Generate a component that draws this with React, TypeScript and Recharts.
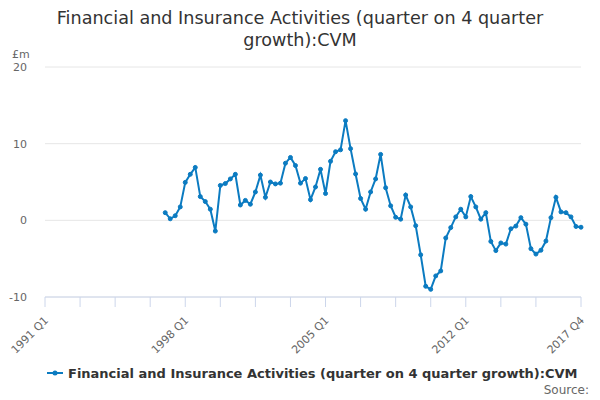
import React from "react";
import { LineChart, Line, XAxis, YAxis, CartesianGrid } from "recharts";

const years: number[] = [];
for (let y = 1991; y <= 2017; y++) years.push(y);
const quarters: string[] = years.flatMap((y) => [`${y} Q1`, `${y} Q2`, `${y} Q3`, `${y} Q4`]);

const seriesName = "Financial and Insurance Activities (quarter on 4 quarter growth):CVM";
const seriesStart = "1997 Q1";
const values: number[] = [
  1.0, 0.2, 0.6, 1.75, 4.95, 6.0, 6.9, 3.1, 2.45, 1.45, -1.4, 4.55,
  4.8, 5.4, 6.0, 2.0, 2.6, 2.1, 3.7, 5.9, 3.0, 5.0, 4.75, 4.85,
  7.45, 8.2, 7.15, 4.85, 5.45, 2.7, 4.35, 6.65, 3.5, 7.7, 8.95, 9.2,
  13.0, 9.35, 6.05, 2.85, 1.45, 3.7, 5.4, 8.6, 4.25, 1.9, 0.4, 0.15,
  3.3, 1.75, -0.7, -4.5, -8.6, -9.0, -7.25, -6.6, -2.3, -0.95, 0.45, 1.45,
  0.45, 3.1, 1.75, 0.15, 1.0, -2.75, -3.95, -2.95, -3.1, -1.1, -0.75, 0.35,
  -0.5, -3.7, -4.4, -3.9, -2.7, 0.35, 3.0, 1.1, 1.0, 0.45, -0.8, -0.9,
];
const xTickLabels = ["1991 Q1", "1998 Q1", "2005 Q1", "2012 Q1", "2017 Q4"];
const xTickMarks = ["1991 Q1", "1992 Q4", "1994 Q3", "1996 Q2", "1998 Q1", "1999 Q4", "2001 Q3", "2003 Q2", "2005 Q1", "2006 Q4", "2008 Q3", "2010 Q2", "2012 Q1", "2013 Q4", "2015 Q3", "2017 Q4"];
const yTicks = [-10, 0, 10, 20];

const startIdx = quarters.indexOf(seriesStart);
const data = values.map((v, i) => ({ x: startIdx + i, label: quarters[startIdx + i], value: v }));
const tickIdx = xTickMarks.map((q) => quarters.indexOf(q));

const COLOR = "#0b7bc1";
const FONT = "'DejaVu Sans', sans-serif";

const XTick = (props: any) => {
  const { x, y, payload } = props;
  const label = quarters[payload.value];
  if (!xTickLabels.includes(label)) return null;
  const ax = x + 4;
  const ay = y + 12;
  return (
    <text
      x={ax}
      y={ay}
      transform={`rotate(-45 ${ax} ${ay})`}
      textAnchor="end"
      fill="#666666"
      fontSize={11}
      fontFamily={FONT}
    >
      {label}
    </text>
  );
};

export default function App() {
  return (
    <div style={{ position: "absolute", left: 0, top: 0, width: 600, height: 400, background: "#fff", fontFamily: FONT }}>
      <div
        style={{
          position: "absolute",
          left: 0,
          top: 7,
          width: 600,
          textAlign: "center",
          fontSize: 17.6,
          lineHeight: "22px",
          color: "#333333",
        }}
      >
        Financial and Insurance Activities (quarter on 4 quarter
        <br />
        growth):CVM
      </div>
      <div style={{ position: "absolute", left: 12, top: 48, fontSize: 11, color: "#666666" }}>£m</div>
      <LineChart
        width={600}
        height={400}
        data={data}
        margin={{ top: 67, right: 19, bottom: 43, left: 0 }}
      >
        <CartesianGrid horizontal vertical={false} stroke="#e6e6e6" />
        <XAxis
          type="number"
          dataKey="x"
          domain={[0, quarters.length - 1]}
          ticks={tickIdx}
          interval={0}
          height={60}
          tickSize={10}
          tickMargin={2}
          stroke="#ccd6eb"
          tickLine={{ stroke: "#ccd6eb" }}
          axisLine={{ stroke: "#ccd6eb" }}
          tick={<XTick />}
        />
        <YAxis
          type="number"
          domain={[-10, 20]}
          ticks={yTicks}
          width={45}
          axisLine={false}
          tickLine={false}
          tickSize={0}
          tickMargin={18}
          tick={{ fill: "#666666", fontSize: 11, fontFamily: FONT }}
        />
        <Line
          type="linear"
          dataKey="value"
          name={seriesName}
          stroke={COLOR}
          strokeWidth={2}
          dot={{ r: 2, fill: COLOR, stroke: COLOR, strokeWidth: 1 }}
          isAnimationActive={false}
        />
      </LineChart>
      <div style={{ position: "absolute", left: 47, top: 365, display: "flex", alignItems: "center" }}>
        <svg width={16} height={16} style={{ display: "block" }}>
          <line x1={0} y1={8} x2={16} y2={8} stroke={COLOR} strokeWidth={2} />
          <circle cx={8} cy={8} r={2.5} fill={COLOR} />
        </svg>
        <span style={{ marginLeft: 5, fontSize: 13, fontWeight: "bold", color: "#333333" }}>{seriesName}</span>
      </div>
      <div style={{ position: "absolute", right: 11, top: 383, fontSize: 12, color: "#666666" }}>Source:</div>
    </div>
  );
}
